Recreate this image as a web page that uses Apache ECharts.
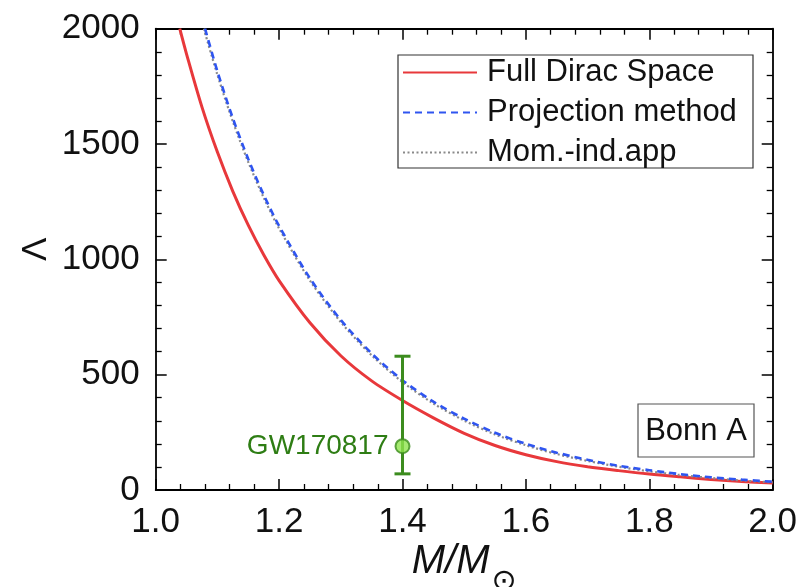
<!DOCTYPE html>
<html><head><meta charset="utf-8">
<script src="https://cdn.jsdelivr.net/npm/echarts@6/dist/echarts.min.js"></script>
<style>html,body{margin:0;padding:0;background:#fff;overflow:hidden}#c{width:805px;height:587px}</style>
</head><body><div id="c"></div>
<script>
// ---- data ----
const massFull   = [1.039, 1.05, 1.075, 1.10, 1.125, 1.15, 1.175, 1.20, 1.25, 1.30, 1.35, 1.40, 1.45, 1.50, 1.55, 1.60, 1.65, 1.70, 1.75, 1.80, 1.85, 1.90, 1.95, 2.00];
const lambdaFull = [2000, 1890, 1660, 1465, 1295, 1148, 1020, 908, 725, 582, 473, 388, 313, 246, 193, 153, 123, 101, 84, 69, 57, 46, 37, 30];

const massProj   = [1.08, 1.10, 1.125, 1.15, 1.175, 1.20, 1.25, 1.30, 1.35, 1.40, 1.45, 1.50, 1.55, 1.60, 1.65, 1.70, 1.75, 1.80, 1.85, 1.90, 1.95, 2.00];
const lambdaProj = [2000, 1815, 1612, 1435, 1280, 1145, 918, 737, 592, 476, 383, 309, 248, 200, 162, 131, 105, 86, 69, 55, 45, 36];

const massMom    = [1.078, 1.10, 1.125, 1.15, 1.175, 1.20, 1.25, 1.30, 1.35, 1.40, 1.45, 1.50, 1.55, 1.60, 1.65, 1.70, 1.75, 1.80, 1.85, 1.90, 1.95, 2.00];
const lambdaMom  = [2000, 1800, 1598, 1422, 1268, 1134, 908, 728, 584, 468, 375, 301, 241, 194, 156, 126, 101, 81, 65, 52, 41, 33];

const gwMass = 1.4, gwLambda = 190, gwLow = 70, gwHigh = 580;
const gwLabel = 'GW170817';

const seriesNames = ['Full Dirac Space', 'Projection method', 'Mom.-ind.app'];
const xTicks = [1.0, 1.2, 1.4, 1.6, 1.8, 2.0];
const yTicks = [0, 500, 1000, 1500, 2000];
const panelLabel = 'Bonn A';

const zip = (a, b) => a.map((v, i) => [v, b[i]]);

const FONT = 'Liberation Sans, Arial, sans-serif';
const frame = { lineStyle: { color: '#000', width: 1.8 } };

const chart = echarts.init(document.getElementById('c'), null, { renderer: 'canvas', width: 805, height: 587 });
const baseX = {
  type: 'value', min: xTicks[0], max: xTicks[xTicks.length - 1], interval: 0.2,
  axisLine: Object.assign({ show: true, onZero: false }, frame),
  axisTick: { show: true, inside: true, length: 11, lineStyle: { color: '#000', width: 1.5 } },
  minorTick: { show: true, splitNumber: 5, length: 6, lineStyle: { color: '#000', width: 1.3 } },
  splitLine: { show: false }, nameMoveOverlap: false
};
const baseY = {
  type: 'value', min: yTicks[0], max: yTicks[yTicks.length - 1], interval: 500,
  axisLine: Object.assign({ show: true, onZero: false }, frame),
  axisTick: { show: true, inside: true, length: 11, lineStyle: { color: '#000', width: 1.5 } },
  minorTick: { show: true, splitNumber: 5, length: 6, lineStyle: { color: '#000', width: 1.3 } },
  splitLine: { show: false }, nameMoveOverlap: false
};

chart.setOption({
  animation: false,
  backgroundColor: '#fff',
  grid: { left: 155.7, right: 32.3, top: 28.7, bottom: 97, containLabel: false, outerBoundsMode: 'none' },
  xAxis: [
    Object.assign({}, baseX, {
      position: 'bottom',
      axisLabel: { show: true, margin: 15, color: '#111', fontSize: 35, fontFamily: FONT,
        formatter: v => v.toFixed(1) },
      name: '{i|M/M}{s|⊙}', nameLocation: 'middle', nameGap: 52,
      nameTextStyle: { rich: {
        i: { fontSize: 40, fontStyle: 'italic', fontFamily: FONT, color: '#111', lineHeight: 40, verticalAlign: 'top' },
        s: { fontSize: 30, fontFamily: 'DejaVu Sans', color: '#111', lineHeight: 55, verticalAlign: 'bottom', padding: [0, 0, 0, 2] }
      } }
    }),
    Object.assign({}, baseX, { position: 'top', axisLabel: { show: false } })
  ],
  yAxis: [
    Object.assign({}, baseY, {
      position: 'left',
      axisLabel: { show: true, margin: 16, color: '#111', fontSize: 35, fontFamily: FONT, formatter: v => String(v) },
      name: 'Λ', nameLocation: 'middle', nameGap: 102,
      nameTextStyle: { fontSize: 35, fontFamily: FONT, color: '#111', padding: [0, 0, 0, 20] }
    }),
    Object.assign({}, baseY, { position: 'right', axisLabel: { show: false } })
  ],
  legend: {
    data: seriesNames, orient: 'vertical', left: 402, top: 57,
    padding: 0, itemWidth: 74, itemHeight: 14, itemGap: 9,
    itemStyle: { opacity: 0, borderWidth: 0 },
    textStyle: { fontSize: 31, lineHeight: 30, fontFamily: FONT, color: '#111', padding: [0, 0, 0, 5] },
    selectedMode: false
  },
  graphic: [
    { type: 'rect', shape: { x: 398, y: 55, width: 355, height: 113 }, style: { fill: 'none', stroke: '#333', lineWidth: 1.2 }, z: 1 },
    { type: 'rect', shape: { x: 638, y: 404, width: 116, height: 53 }, style: { fill: '#fff', stroke: '#555', lineWidth: 1.2 }, z: 1 },
    { type: 'text', x: 696, y: 431, style: { text: panelLabel, fontSize: 31, fontFamily: FONT, fill: '#111', textAlign: 'center', textVerticalAlign: 'middle' }, z: 2 }
  ],
  series: [
    { name: seriesNames[0], type: 'line', data: zip(massFull, lambdaFull), smooth: 0.3, symbol: 'none',
      lineStyle: { color: '#e8383b', width: 3 }, itemStyle: { color: '#e8383b' }, z: 3 },
    { name: seriesNames[2], type: 'line', data: zip(massMom, lambdaMom), smooth: 0.3, symbol: 'none',
      lineStyle: { color: '#8a8a8a', width: 2.2, type: [2, 2.5] }, itemStyle: { color: '#8a8a8a' }, z: 3 },
    { name: seriesNames[1], type: 'line', data: zip(massProj, lambdaProj), smooth: 0.3, symbol: 'none',
      lineStyle: { color: '#2f55f0', width: 2.6, type: [7, 5] }, itemStyle: { color: '#2f55f0' }, z: 4 },
    { name: 'gwbar', type: 'custom', data: [[gwMass, gwLow, gwHigh]], z: 5,
      renderItem: function (params, api) {
        const x = api.value(0);
        const lo = api.coord([x, api.value(1)]);
        const hi = api.coord([x, api.value(2)]);
        const hw = 8, st = { stroke: '#3c8c1e', lineWidth: 3 };
        return { type: 'group', children: [
          { type: 'line', shape: { x1: lo[0], y1: lo[1], x2: hi[0], y2: hi[1] }, style: st },
          { type: 'line', shape: { x1: lo[0] - hw, y1: lo[1], x2: lo[0] + hw, y2: lo[1] }, style: st },
          { type: 'line', shape: { x1: hi[0] - hw, y1: hi[1], x2: hi[0] + hw, y2: hi[1] }, style: st }
        ] };
      } },
    { name: 'gwpoint', type: 'scatter', data: [[gwMass, gwLambda]], symbolSize: 14, z: 6,
      itemStyle: { color: '#8ee34c', borderColor: '#3c8c1e', borderWidth: 2 },
      label: { show: true, position: 'left', distance: 6, formatter: gwLabel, color: '#2e7d14', fontSize: 28,
        fontFamily: FONT, textBorderWidth: 0, opacity: 1 } }
  ]
});
</script>
</body></html>
